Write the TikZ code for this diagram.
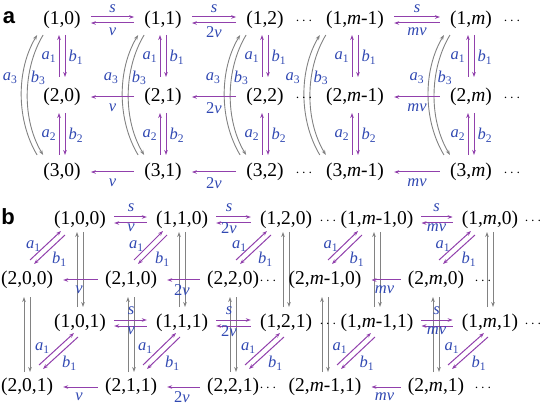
\documentclass[tikz,border=0pt]{standalone}
\usepackage{fontspec}
\setmainfont{Liberation Serif}
\newfontfamily\panelfont{Liberation Sans}
\usetikzlibrary{arrows.meta,calc}
\definecolor{ratepurple}{RGB}{145,64,172}
\definecolor{rateblue}{RGB}{48,72,178}
\definecolor{rategray}{RGB}{130,130,130}
\newcommand{\kr}[2]{\textit{#1}\textsubscript{#2}}
\newcommand{\stdots}{\vphantom{(}{\fontsize{14}{16}\selectfont$\cdots$}}
\tikzset{
	state/.style={font=\fontsize{19.5}{22}\selectfont,inner sep=0pt},
	rate/.style={font=\fontsize{16.5}{18}\selectfont,text=rateblue,inner sep=0pt},
	panel/.style={font=\panelfont\bfseries\fontsize{22}{24}\selectfont,inner sep=0pt},
	pa/.style={draw=ratepurple,line width=1pt,-{Stealth[length=5pt,width=3.6pt]}},
	ga/.style={draw=rategray,line width=0.9pt,-{Stealth[length=5pt,width=3.6pt]}},
}
\begin{document}
\begin{tikzpicture}[x=1pt,y=-1pt]
	\useasboundingbox (0,0) rectangle (541,406);
	% panel a
	\node[panel] (la) at (9,18) {a};
	\foreach \i/\x/\c in {0/62/0,1/163/1,2/265/2,3/355/\textit{m}-1,4/471/\textit{m}} {
		\node[state] (a1\i) at (\x,20) {(1,\c)};
		\node[state] (a2\i) at (\x,97) {(2,\c)};
		\node[state] (a3\i) at (\x,172) {(3,\c)};
		\draw[pa] ($(a2\i)+(-3,-20)$) -- ($(a1\i)+(-3,15)$);
		\draw[pa] ($(a1\i)+(3,15)$) -- ($(a2\i)+(3,-20)$);
		\draw[pa] ($(a3\i)+(-3,-17)$) -- ($(a2\i)+(-3,16)$);
		\draw[pa] ($(a2\i)+(3,16)$) -- ($(a3\i)+(3,-17)$);
		\node[rate] (ka1\i) at ($(a1\i)+(-13,37)$) {\kr{a}{1}};
		\node[rate] (kb1\i) at ($(a1\i)+(14,37)$) {\kr{b}{1}};
		\node[rate] (ka2\i) at ($(a2\i)+(-13,38)$) {\kr{a}{2}};
		\node[rate] (kb2\i) at ($(a2\i)+(14,38)$) {\kr{b}{2}};
		\draw[ga] ($(a3\i.west)+(-6,-17)$) .. controls +(-21,-35) and +(-21,35) .. ($(a1\i.west)+(-6,15)$);
		\draw[ga] ($(a1\i.west)+(0,15)$) .. controls +(-21,35) and +(-21,-35) .. ($(a3\i.west)+(0,-17)$);
		\node[rate] (ka3\i) at ($(a1\i.west)+(-33,58)$) {\kr{a}{3}};
		\node[rate] (kb3\i) at ($(a1\i.west)+(-5,58)$) {\kr{b}{3}};
	}
	\foreach \r/\y in {1/20,2/97,3/172} {
		\node[state] (ad\r) at (304,\y) {\stdots};
		\node[state] (ae\r) at (512,\y) {\stdots};
	}
	\foreach \i/\j/\r in {0/1/\textit{v},1/2/2\textit{v},3/4/\textit{mv}} {
		\draw[pa] ($(a1\i.east)+(10,-3)$) -- ($(a1\j.west)+(-10,-3)$);
		\draw[pa] ($(a1\j.west)+(-10,3)$) -- ($(a1\i.east)+(10,3)$);
		\node[rate] (as\i) at ($(a1\i.east)!0.5!(a1\j.west)+(0,-11)$) {\textit{s}};
		\node[rate] (av1\i) at ($(a1\i.east)!0.5!(a1\j.west)+(0,12)$) {\r};
		\draw[pa] ($(a2\j.west)+(-10,0)$) -- ($(a2\i.east)+(10,0)$);
		\node[rate] (av2\i) at ($(a2\i.east)!0.5!(a2\j.west)+(0,11)$) {\r};
		\draw[pa] ($(a3\j.west)+(-10,0)$) -- ($(a3\i.east)+(10,0)$);
		\node[rate] (av3\i) at ($(a3\i.east)!0.5!(a3\j.west)+(0,11)$) {\r};
	}
	% panel b
	\node[panel] (lb) at (8,217) {b};
	\foreach \i/\x/\f/\c in {0/80/27/0,1/182/131/1,2/286/233/2,3/377/325/\textit{m}-1,4/490/436/\textit{m}} {
		\node[state] (b1\i0) at (\x,220) {(1,\c,0)};
		\node[state] (b2\i0) at (\f,280) {(2,\c,0)};
		\node[state] (b1\i1) at (\x,323) {(1,\c,1)};
		\node[state] (b2\i1) at (\f,387) {(2,\c,1)};
		% between the two layers
		\draw[ga] ($(b1\i1)+(-3,-16)$) -- ($(b1\i0)+(-3,12)$);
		\draw[ga] ($(b1\i0)+(3,12)$) -- ($(b1\i1)+(3,-16)$);
		\draw[ga] ($(b2\i1)+(-3,-15)$) -- ($(b2\i0)+(-3,17)$);
		\draw[ga] ($(b2\i0)+(3,17)$) -- ($(b2\i1)+(3,-15)$);
		% diagonals
		\draw[pa] ($(b2\i0)+(3,-20)$) -- ($(b1\i0)+(-19,11)$);
		\draw[pa] ($(b1\i0)+(-15,15)$) -- ($(b2\i0)+(7,-16)$);
		\node[rate] (kc0\i) at ($(b2\i0)!0.5!(b1\i0)+(-20,-4)$) {\kr{a}{1}};
		\node[rate] (kd0\i) at ($(b2\i0)!0.5!(b1\i0)+(6,9)$) {\kr{b}{1}};
		\draw[pa] ($(b2\i1)+(12,-22)$) -- ($(b1\i1)+(-6,10)$);
		\draw[pa] ($(b1\i1)+(-2,14)$) -- ($(b2\i1)+(16,-18)$);
		\node[rate] (kc1\i) at ($(b2\i1)!0.5!(b1\i1)+(-11,-7)$) {\kr{a}{1}};
		\node[rate] (kd1\i) at ($(b2\i1)!0.5!(b1\i1)+(16,8)$) {\kr{b}{1}};
	}
	\foreach \k/\yb/\yf in {0/220/280,1/323/387} {
		\node[state] (bd1\k) at (328,\yb) {\stdots};
		\node[state] (be1\k) at (533,\yb) {\stdots};
		\node[state] (bd2\k) at (268,\yf) {\stdots};
		\node[state] (be2\k) at (483,\yf) {\stdots};
	}
	\foreach \i/\j/\r/\dx in {0/1/\textit{v}/0,1/2/2\textit{v}/-5,3/4/\textit{mv}/-1} {
		\foreach \k in {0,1} {
			\draw[pa] ($(b1\i\k.east)+(8,-3)$) -- ($(b1\j\k.west)+(-9,-3)$);
			\draw[pa] ($(b1\j\k.west)+(-9,3)$) -- ($(b1\i\k.east)+(8,3)$);
			\node[rate] (bs\i\k) at ($(b1\i\k.east)!0.5!(b1\j\k.west)+(\dx,-12)$) {\textit{s}};
			\node[rate] (bv\i\k) at ($(b1\i\k.east)!0.5!(b1\j\k.west)+(\dx,8)$) {\r};
			\draw[pa] ($(b2\j\k.west)+(-7,0)$) -- ($(b2\i\k.east)+(10,0)$);
			\node[rate] (bw\i\k) at ($(b2\i\k.east)!0.5!(b2\j\k.west)+(0,10)$) {\r};
		}
	}
\end{tikzpicture}
\end{document}
